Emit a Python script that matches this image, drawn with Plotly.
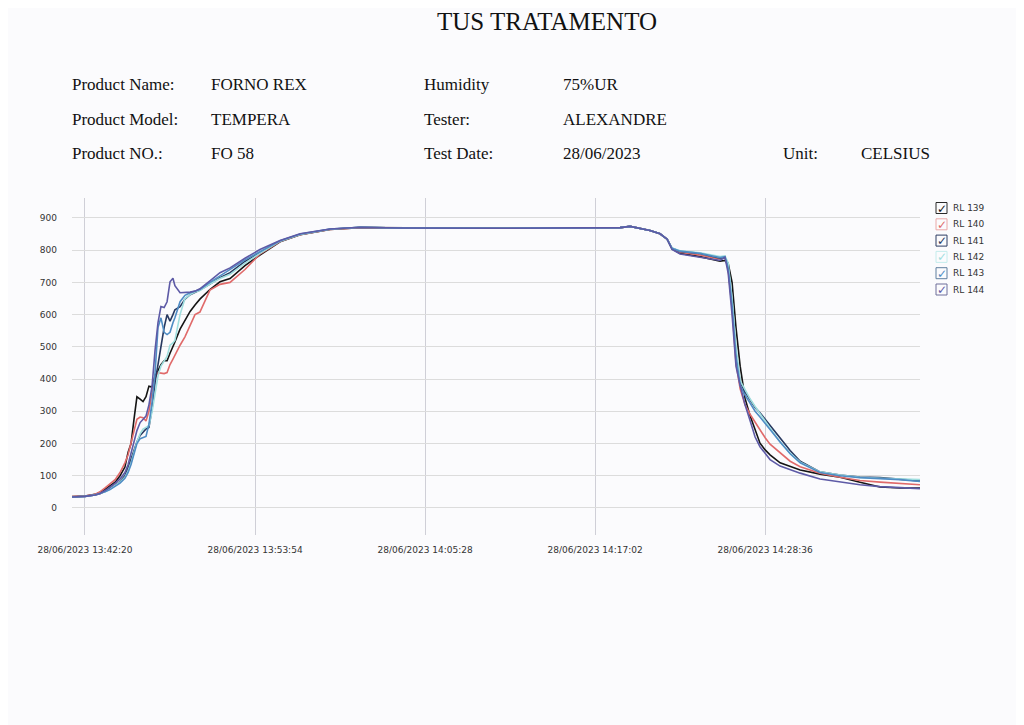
import pandas as pd
import plotly.graph_objects as go

# ---------------- data ----------------
start_time = "2023-06-28 13:41:27"
end_time = "2023-06-28 14:39:08"

# seconds elapsed since start_time
offsets_s = [0, 53, 94, 114, 135, 155, 176, 196, 216, 229, 241, 253, 265, 278, 290, 302,
             314, 327, 339, 351, 363, 376, 388, 400, 412, 420, 441, 461, 482, 502, 522, 563, 604, 645, 706, 767,
             849, 931, 1053, 1176, 1339, 1747, 2155,
             2237, 2278, 2318, 2359, 2400, 2429, 2449, 2482, 2563, 2645, 2665, 2678, 2694, 2710, 2727,
             2747, 2768, 2788, 2808, 2829, 2849, 2890, 2931, 2972, 3053, 3135, 3216, 3298, 3380, 3461]

rl139 = [35, 37, 42, 48, 58, 68, 80, 100, 127, 173, 200, 275, 345, 338, 330, 345,
         378, 375, 410, 426, 445, 457, 457, 480, 500, 515, 555, 580, 610, 630, 648, 678, 702, 712, 752, 785,
         826, 848, 864, 870, 869, 868, 868,
         870, 874, 868, 861, 851, 834, 804, 790, 780, 766, 768, 760, 700, 560, 440, 340, 285, 240, 201,
         180, 165, 140, 128, 118, 105, 95, 80, 65, 62, 62]
rl140 = [35, 37, 42, 50, 62, 75, 88, 110, 140, 165, 200, 240, 275, 282, 280, 270,
         300, 360, 405, 420, 418, 417, 420, 445, 462, 475, 505, 531, 565, 600, 608, 676, 694, 700, 740, 788,
         827, 848, 864, 870, 869, 868, 868,
         870, 874, 868, 861, 851, 834, 806, 794, 785, 772, 780, 740, 620, 450, 370, 320, 290, 265, 240,
         218, 198, 170, 145, 128, 108, 95, 85, 80, 75, 72]
rl141 = [34, 36, 40, 44, 52, 60, 70, 82, 100, 125, 150, 180, 205, 225, 235, 245,
         250, 310, 390, 450, 510, 560, 600, 580, 600, 615, 625, 648, 662, 668, 676, 695, 715, 730, 765, 792,
         828, 849, 865, 871, 869, 868, 868,
         870, 874, 868, 861, 851, 834, 806, 796, 790, 775, 778, 745, 630, 480, 390, 360, 335, 312, 295,
         275, 255, 215, 178, 145, 112, 102, 96, 94, 90, 84]
rl142 = [34, 36, 40, 44, 50, 58, 68, 80, 95, 115, 140, 175, 205, 230, 245, 250,
         255, 300, 360, 410, 440, 455, 470, 505, 512, 520, 600, 650, 662, 670, 675, 695, 712, 725, 760, 790,
         828, 849, 865, 871, 869, 868, 868,
         870, 874, 868, 861, 851, 834, 807, 798, 792, 780, 782, 760, 650, 500, 395, 365, 338, 315, 292,
         270, 248, 205, 170, 142, 112, 102, 95, 92, 90, 88]
rl143 = [34, 36, 40, 44, 50, 57, 66, 77, 92, 110, 135, 170, 200, 215, 218, 222,
         260, 330, 420, 560, 590, 545, 538, 545, 575, 590, 640, 660, 668, 672, 678, 700, 720, 738, 770, 795,
         829, 850, 866, 871, 869, 868, 868,
         870, 874, 868, 861, 851, 834, 806, 797, 790, 777, 780, 745, 630, 470, 380, 350, 325, 300, 282,
         262, 242, 205, 168, 140, 110, 100, 94, 91, 88, 82]
rl144 = [34, 36, 40, 45, 54, 64, 76, 90, 110, 135, 170, 200, 240, 265, 275, 285,
         320, 380, 490, 575, 625, 622, 640, 702, 713, 690, 668, 668, 670, 673, 680, 705, 730, 745, 775, 802,
         830, 851, 866, 871, 869, 868, 868,
         870, 874, 868, 861, 851, 834, 802, 788, 778, 768, 778, 730, 600, 440, 380, 320, 270, 220, 190,
         168, 150, 130, 118, 108, 90, 80, 72, 66, 62, 60]

series_names = ["RL 139", "RL 140", "RL 141", "RL 142", "RL 143", "RL 144"]
series_values = [rl139, rl140, rl141, rl142, rl143, rl144]
series_colors = ["#141414", "#e06a6a", "#27385f", "#9fdede", "#4f8cc4", "#5d5aa6"]
box_colors = ["#2a2a2a", "#eaa8a8", "#2d3d63", "#c4ecec", "#5f7f9f", "#6e6e9a"]

x_tick_times = ["2023-06-28 13:42:20", "2023-06-28 13:53:54", "2023-06-28 14:05:28",
                "2023-06-28 14:17:02", "2023-06-28 14:28:36"]
x_tick_labels = ["28/06/2023 13:42:20", "28/06/2023 13:53:54", "28/06/2023 14:05:28",
                 "28/06/2023 14:17:02", "28/06/2023 14:28:36"]
y_ticks = [0, 100, 200, 300, 400, 500, 600, 700, 800, 900]

title_text = "TUS TRATAMENTO"
header_rows = [
    [("Product Name:", 70), ("FORNO REX", 209), ("Humidity", 422), ("75%UR", 561)],
    [("Product Model:", 70), ("TEMPERA", 209), ("Tester:", 422), ("ALEXANDRE", 561)],
    [("Product NO.:", 70), ("FO 58", 209), ("Test Date:", 422), ("28/06/2023", 561),
     ("Unit:", 781), ("CELSIUS", 859)],
]
header_y = [84, 119, 154]

# ---------------- figure ----------------
PAGE_W, PAGE_H = 1024, 725
BODY = 8  # default page margin around the plot div
W, H = PAGE_W - BODY, PAGE_H - BODY
L, R, T, B = 72, 920, 198, 535  # plot area in page pixels


def xp(px):
    return (px - L) / (R - L)


def yp(py):
    return (B - py) / (B - T)


times = pd.Timestamp(start_time) + pd.to_timedelta(offsets_s, unit="s")

fig = go.Figure()
for name, vals, col in zip(series_names, series_values, series_colors):
    fig.add_trace(go.Scatter(x=times, y=vals, mode="lines", name=name,
                             line=dict(color=col, width=1.6), showlegend=False))

annotations = []
shapes = []
annotations.append(dict(text=title_text, x=xp(547), y=yp(22), xref="paper", yref="paper",
                        showarrow=False, xanchor="center", yanchor="middle",
                        font=dict(family="Liberation Serif", size=25, color="#111")))
for row, py in zip(header_rows, header_y):
    for txt, px in row:
        annotations.append(dict(text=txt, x=xp(px), y=yp(py), xref="paper", yref="paper",
                                showarrow=False, xanchor="left", yanchor="middle",
                                font=dict(family="Liberation Serif", size=17, color="#111")))

# checkbox legend
for i, (name, col, bcol) in enumerate(zip(series_names, series_colors, box_colors)):
    pc = 208 + i * 16.3
    shapes.append(dict(type="rect", xref="paper", yref="paper",
                       x0=xp(936), x1=xp(947), y0=yp(pc + 5.5), y1=yp(pc - 5.5),
                       line=dict(color=bcol, width=1), fillcolor="rgba(0,0,0,0)"))
    annotations.append(dict(text="✓", x=xp(941.8), y=yp(pc + 0.5), xref="paper", yref="paper",
                            showarrow=False, xanchor="center", yanchor="middle",
                            font=dict(family="DejaVu Sans", size=12, color=col)))
    annotations.append(dict(text=name, x=xp(951), y=yp(pc), xref="paper", yref="paper",
                            showarrow=False, xanchor="left", yanchor="middle",
                            font=dict(family="DejaVu Sans", size=9, color="#333")))

fig.update_layout(
    width=W, height=H, autosize=False,
    margin=dict(l=L - BODY, r=PAGE_W - R, t=T - BODY, b=PAGE_H - B, pad=0),
    paper_bgcolor="#fbfbfd", plot_bgcolor="#fbfbfd",
    annotations=annotations, shapes=shapes,
    showlegend=False,
)
fig.update_xaxes(
    range=[pd.Timestamp(start_time), pd.Timestamp(end_time)],
    tickmode="array", tickvals=[pd.Timestamp(t) for t in x_tick_times], ticktext=x_tick_labels,
    showgrid=True, gridcolor="#cfcfd7", gridwidth=1, zeroline=False, showline=False,
    ticks="", ticklabelstandoff=8,
    tickfont=dict(family="DejaVu Sans", size=9, color="#333"),
)
fig.update_yaxes(
    range=[-84, 962], tickmode="array", tickvals=y_ticks,
    showgrid=True, gridcolor="#dcdcdc", gridwidth=1, zeroline=False, showline=False,
    ticks="", ticklabelstandoff=14,
    tickfont=dict(family="DejaVu Sans", size=9, color="#333"),
)

fig.write_html("out.html")
